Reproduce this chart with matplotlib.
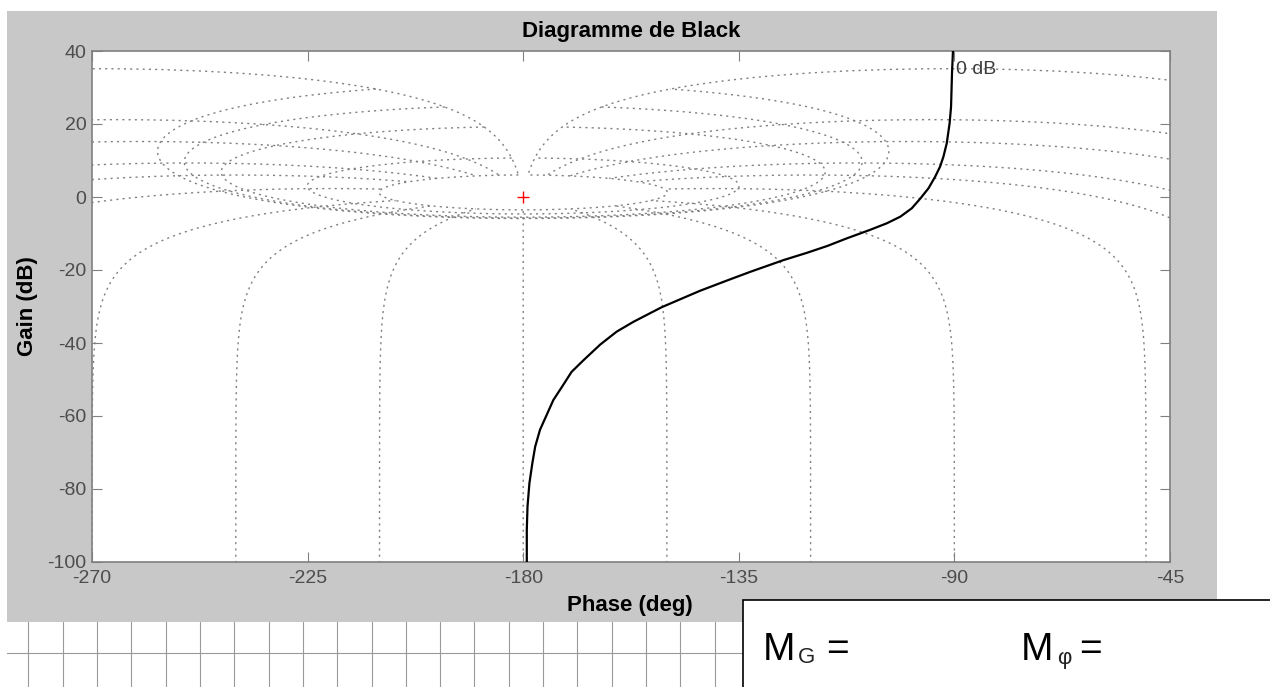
import numpy as np
import matplotlib.pyplot as plt
from matplotlib.patches import Rectangle

plt.rcParams['font.family'] = ['Liberation Sans', 'DejaVu Sans']
plt.rcParams['axes.unicode_minus'] = False

# open-loop frequency response, phase (deg) vs gain (dB)
phase_deg = [-179.25, -179.25, -179.1, -178.7, -178.1, -177.5, -176.5, -175.1,
             -173.7, -171.9, -169.9, -167.4, -163.9, -160.5, -157.0, -154.2,
             -151.1, -147.2, -143.1, -137.5, -132.6, -125.7, -120.8, -116.5,
             -112.4, -107.6, -104.1, -101.3, -98.9, -97.1, -95.4, -94.0,
             -93.0, -92.3, -91.6, -91.0, -90.7, -90.5, -90.3]
gain_db = [-100.0, -91.2, -84.8, -78.4, -73.0, -68.4, -63.8, -59.7,
           -55.6, -52.0, -47.9, -44.7, -40.4, -36.9, -34.2, -32.3,
           -30.2, -28.0, -25.7, -22.9, -20.5, -17.3, -15.3, -13.4,
           -11.3, -9.0, -7.2, -5.4, -3.1, -0.4, 2.4, 5.6,
           8.3, 11.0, 14.7, 20.2, 24.7, 33.9, 40.0]

# closed-loop gain (dB) and phase (deg) levels of the Nichols grid
cl_gains = [6, 3, 1, 0.5, 0.25, 0, -1, -3, -6, -12, -20, -40, -60, -80, -100]
cl_phases = [-1, -5, -10, -20, -30, -50, -90, -120, -150, -180,
             -210, -240, -270, -310, -330, -340, -350, -355, -359]

phase_ticks = [-270, -225, -180, -135, -90, -45]
gain_ticks = [-100, -80, -60, -40, -20, 0, 20, 40]

W, H = 1270, 687
GRID = dict(color='#808080', lw=1.0, ls=(0, (1.5, 3.0)), zorder=1)


def gain_contour(g):
    # constant closed-loop gain, closed-loop phase swept from -359 to -1 deg
    m = 10 ** (g / 20)
    th = np.deg2rad(np.linspace(-359, -1, 6000))
    t = m * np.exp(1j * th)
    ol = t / (1 - t)
    ph = np.rad2deg(np.unwrap(np.angle(ol)))
    if m > 1:
        ph -= 360 * np.round((ph.mean() + 180) / 360)
    else:
        ph -= 360 * np.round(ph[0] / 360)
    return ph, 20 * np.log10(np.abs(ol))


def phase_contour(p):
    # constant closed-loop phase, closed-loop gain up to 6 dB
    m = 10 ** (np.linspace(-140, 6, 6000) / 20)
    t = m * np.exp(1j * np.deg2rad(p))
    ol = t / (1 - t)
    ph = np.rad2deg(np.unwrap(np.angle(ol)))
    ph -= 360 * np.round((ph[0] - p) / 360)
    return ph, 20 * np.log10(np.abs(ol))


fig = plt.figure(figsize=(W / 100, H / 100), dpi=100, facecolor='white')

# grey figure panel
fig.add_artist(Rectangle((7 / W, 1 - 622 / H), 1210 / W, 611 / H,
                         transform=fig.transFigure, facecolor='#c8c8c8',
                         edgecolor='none', zorder=0))

ax = fig.add_axes([92 / W, 1 - 562 / H, 1078 / W, 511 / H])
ax.set_facecolor('white')

for g in cl_gains:
    x, y = gain_contour(g)
    ax.plot(x, y, **GRID)
for p in cl_phases:
    x, y = phase_contour(p)
    ax.plot(x, y, **GRID)

ax.plot(phase_deg, gain_db, color='black', lw=1.6, zorder=3)
ax.plot(-180, 0, '+', color='red', ms=8, mew=1, zorder=3)
ax.text(-89.6, 35, '0 dB', fontsize=14, color='#3c3c3c', va='center', ha='left')

ax.set_xlim(-270, -45)
ax.set_ylim(-100, 40)
ax.set_xticks(phase_ticks)
ax.set_yticks(gain_ticks)
ax.tick_params(direction='in', length=7, width=0.8, color='#808080',
               top=True, right=True, labelsize=14, labelcolor='#4d4d4d')
ax.tick_params(axis='x', pad=6)
ax.tick_params(axis='y', pad=4)
for s in ax.spines.values():
    s.set_color('#808080')
    s.set_linewidth(1.2)

fig.text(631 / W, 1 - 32 / H, 'Diagramme de Black', ha='center', va='center',
         fontsize=16, fontweight='bold')
fig.text(630 / W, 1 - 606 / H, 'Phase (deg)', ha='center', va='center',
         fontsize=16, fontweight='bold')
fig.text(27 / W, 1 - 306 / H, 'Gain (dB)', ha='center', va='center',
         rotation=90, fontsize=16, fontweight='bold')

# squared paper under the panel
paper = fig.add_axes([7 / W, 0, 736 / W, 65 / H])
paper.set_xlim(7, 743)
paper.set_ylim(0, 65)
paper.set_xticks(np.arange(28.3, 743, 34.32))
paper.set_yticks([34])
paper.tick_params(length=0, labelbottom=False, labelleft=False)
paper.grid(color='#9a9a9a', lw=0.8)
paper.patch.set_visible(False)
for s in paper.spines.values():
    s.set_visible(False)

# answer box
fig.add_artist(Rectangle((743 / W, -0.05), 0.5, 87 / H + 0.05,
                         transform=fig.transFigure, facecolor='white',
                         edgecolor='black', lw=1.2, zorder=5))
fig.text(763 / W, 1 - 660 / H, 'M', fontsize=28, zorder=6)
fig.text(798 / W, 1 - 663 / H, 'G', fontsize=16, color='#222222', zorder=6)
fig.text(826 / W, 1 - 660 / H, '=', fontsize=28, zorder=6)
fig.text(1021 / W, 1 - 660 / H, 'M', fontsize=28, zorder=6)
fig.text(1057 / W, 1 - 664 / H, 'φ', fontsize=16, color='#222222', zorder=6)
fig.text(1079 / W, 1 - 660 / H, '=', fontsize=28, zorder=6)

fig.savefig('out.png', dpi=100, facecolor='white')
